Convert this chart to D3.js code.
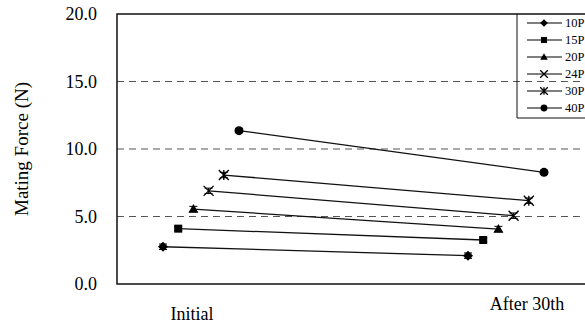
<!DOCTYPE html>
<html><head><meta charset="utf-8">
<script src="https://cdn.jsdelivr.net/npm/d3@7"></script>
<style>body{margin:0;background:#fff;}svg{display:block;} svg text{font-family:"Liberation Serif","Times New Roman",Times,serif !important;}</style>
</head><body>
<svg id="c" width="585" height="327"></svg>
<script>
const categories = ["Initial", "After 30th"];
const seriesNames = ["10P", "15P", "20P", "24P", "30P", "40P"];
const initialValues = [2.76, 4.1, 5.55, 6.9, 8.07, 11.36];
const after30Values = [2.1, 3.26, 4.07, 5.06, 6.17, 8.27];
const errorValues = [0.2, 0.15, 0.2, 0.2, 0.2, 0.15];
const yTicks = [0, 5, 10, 15, 20];
const markers = ["diamond", "square", "triangle", "cross", "asterisk", "circle"];

const svg = d3.select("#c");
const pL = 117, pT = 14, pB = 284, pR = 585;
const y = d3.scaleLinear().domain([0, 20]).range([pB, pT]);
const x = d3.scalePoint().domain(categories).range([201, 506]);
const off = d3.scalePoint().domain(seriesNames).range([-38, 38]);

// gridlines
svg.append("g").selectAll("line").data(yTicks.filter(d => d > 0 && d < 20)).join("line")
  .attr("x1", pL).attr("x2", pR).attr("y1", d => y(d)).attr("y2", d => y(d))
  .attr("stroke", "#555").attr("stroke-width", 1).attr("stroke-dasharray", "7,5");

// frame
svg.append("path").attr("d", `M${pR},${pT}H${pL}V${pB}H${pR}`)
  .attr("fill", "none").attr("stroke", "#111").attr("stroke-width", 1.5);

// y axis labels
const yAxis = d3.axisLeft(y).tickValues(yTicks).tickFormat(d3.format(".1f")).tickSize(0).tickPadding(20);
const ga = svg.append("g").attr("transform", `translate(${pL},0)`).call(yAxis);
ga.select(".domain").remove();
ga.selectAll("text").attr("font-size", 18).attr("fill", "#000");

// title
svg.append("text").attr("transform", "translate(28,149) rotate(-90)").attr("text-anchor", "middle")
  .attr("font-size", 19).text("Mating Force (N)");

// x labels
const xl = [{dx: -9, y: 320}, {dx: 21, y: 310}];
svg.append("g").selectAll("text").data(categories).join("text")
  .attr("x", (d, i) => x(d) + xl[i].dx).attr("y", (d, i) => xl[i].y)
  .attr("text-anchor", "middle").attr("font-size", 18).text(d => d);

function drawMarker(g, type, s) {
  const k = s;
  if (type === "diamond") g.append("path").attr("d", `M0,${-k}L${k},0L0,${k}L${-k},0Z`).attr("fill", "#000");
  else if (type === "square") g.append("rect").attr("x", -k * 0.8).attr("y", -k * 0.8).attr("width", k * 1.6).attr("height", k * 1.6).attr("fill", "#000");
  else if (type === "triangle") g.append("path").attr("d", `M0,${-k}L${k},${k * 0.75}L${-k},${k * 0.75}Z`).attr("fill", "#000");
  else if (type === "cross") g.append("path").attr("d", `M${-k},${-k}L${k},${k}M${k},${-k}L${-k},${k}`).attr("stroke", "#000").attr("stroke-width", 1.3);
  else if (type === "asterisk") g.append("path").attr("d", `M${-k},${-k}L${k},${k}M${k},${-k}L${-k},${k}M0,${-k}V${k}`).attr("stroke", "#000").attr("stroke-width", 1.3);
  else if (type === "circle") g.append("circle").attr("r", k * 0.9).attr("fill", "#000");
}

const data = seriesNames.map((s, i) => ({name: s, marker: markers[i], err: errorValues[i],
  pts: [{c: categories[0], v: initialValues[i]}, {c: categories[1], v: after30Values[i]}]}));

const sg = svg.append("g").selectAll("g").data(data).join("g");
sg.append("line")
  .attr("x1", d => x(d.pts[0].c) + off(d.name)).attr("y1", d => y(d.pts[0].v))
  .attr("x2", d => x(d.pts[1].c) + off(d.name)).attr("y2", d => y(d.pts[1].v))
  .attr("stroke", "#111").attr("stroke-width", 1.3);
sg.each(function(d) {
  const g = d3.select(this);
  d.pts.forEach(p => {
    const cx = x(p.c) + off(d.name), cy = y(p.v);
    g.append("path").attr("d", `M${cx - 4},${y(p.v + d.err)}H${cx + 4}M${cx},${y(p.v + d.err)}V${y(p.v - d.err)}M${cx - 4},${y(p.v - d.err)}H${cx + 4}`)
      .attr("stroke", "#000").attr("stroke-width", 1);
    drawMarker(g.append("g").attr("transform", `translate(${cx},${cy})`), d.marker, 5);
  });
});

// legend
const lg = svg.append("g");
lg.append("path").attr("d", `M517,${pT}V118H${pR}`).attr("fill", "none").attr("stroke", "#111").attr("stroke-width", 1);
const ly = d3.scalePoint().domain(seriesNames).range([23, 108]);
const li = lg.selectAll("g.item").data(data).join("g").attr("class", "item").attr("transform", d => `translate(0,${ly(d.name)})`);
li.append("line").attr("x1", 527).attr("x2", 562).attr("stroke", "#000").attr("stroke-width", 1.2);
li.each(function(d) { drawMarker(d3.select(this).append("g").attr("transform", "translate(544,0)"), d.marker, 3.8); });
li.append("text").attr("x", 565).attr("y", 4).attr("font-size", 12.5).text(d => d.name);
</script>
</body></html>
